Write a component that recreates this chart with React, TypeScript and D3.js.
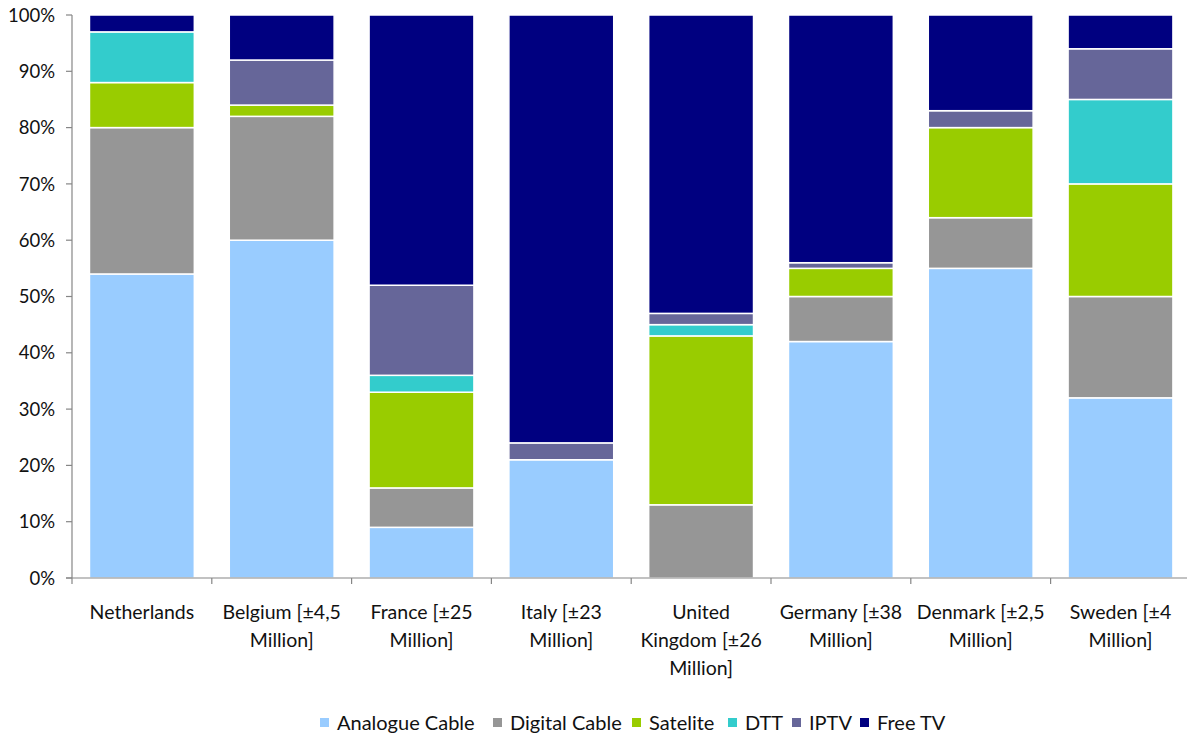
import React from "react";
import * as d3 from "d3";

const categories = [
  ["Netherlands"],
  ["Belgium [±4,5", "Million]"],
  ["France [±25", "Million]"],
  ["Italy [±23", "Million]"],
  ["United", "Kingdom [±26", "Million]"],
  ["Germany [±38", "Million]"],
  ["Denmark [±2,5", "Million]"],
  ["Sweden [±4", "Million]"],
];
const seriesNames = ["Analogue Cable", "Digital Cable", "Satelite", "DTT", "IPTV", "Free TV"];
const seriesColors = ["#99ccff", "#969696", "#99cc00", "#33cccc", "#666699", "#000080"];
const analogueCable = [54, 60, 9, 21, 0, 42, 55, 32];
const digitalCable = [26, 22, 7, 0, 13, 8, 9, 18];
const satelite = [8, 2, 17, 0, 30, 5, 16, 20];
const dtt = [9, 0, 3, 0, 2, 0, 0, 15];
const iptv = [0, 8, 16, 3, 2, 1, 3, 9];
const freeTv = [3, 8, 48, 76, 53, 44, 17, 6];
const yTicks = [0, 10, 20, 30, 40, 50, 60, 70, 80, 90, 100];

const W = 1187, H = 735;
const font = "Lato, sans-serif";

export default function App() {
  const data = [analogueCable, digitalCable, satelite, dtt, iptv, freeTv];
  const x = d3.scaleBand<number>().domain(d3.range(categories.length)).range([72, 72 + 8 * 139.8]).paddingInner(0.25).paddingOuter(0.125);
  const y = d3.scaleLinear().domain([0, 100]).range([578, 15]);
  const rows = categories.map((_, i) => {
    const r: any = { i };
    seriesNames.forEach((s, k) => (r[s] = data[k][i]));
    return r;
  });
  const stacked = d3.stack<any>().keys(seriesNames)(rows);

  const legendX = [320, 493, 632, 728, 792, 860];

  return (
    <svg width={W} height={H} style={{ position: "absolute", left: 0, top: 0, background: "#fff" }} fontFamily={font}>
      {stacked.map((layer, k) => (
        <g key={k} fill={seriesColors[k]}>
          {layer.map((d, i) =>
            d[1] - d[0] > 0 ? (
              <rect key={i} x={x(i)} width={x.bandwidth()} y={y(d[1])} height={y(d[0]) - y(d[1])} stroke="#fff" strokeWidth={1.5} />
            ) : null
          )}
        </g>
      ))}
      {/* y axis */}
      <line x1={72} x2={72} y1={15} y2={578} stroke="#868686" strokeWidth={1.2} />
      {yTicks.map((t) => (
        <g key={t}>
          <line x1={66} x2={72} y1={y(t)} y2={y(t)} stroke="#868686" strokeWidth={1.2} />
          <text x={55} y={y(t)} dy="0.36em" textAnchor="end" fontSize={18.5} fill="#111">
            {t}%
          </text>
        </g>
      ))}
      {/* x axis */}
      <line x1={66} x2={W} y1={578} y2={578} stroke="#868686" strokeWidth={1.2} />
      {d3.range(categories.length + 1).map((i) => (
        <line key={i} x1={72 + i * 139.8} x2={72 + i * 139.8} y1={578} y2={584} stroke="#868686" strokeWidth={1.2} />
      ))}
      {categories.map((lines, i) => (
        <text key={i} textAnchor="middle" fontSize={19.5} fill="#111">
          {lines.map((l, j) => (
            <tspan key={j} x={(x(i) as number) + x.bandwidth() / 2} y={612 + j * 28} dy="0.36em">
              {l}
            </tspan>
          ))}
        </text>
      ))}
      {/* legend */}
      {seriesNames.map((s, k) => (
        <g key={s}>
          <rect x={legendX[k]} y={718} width={9} height={9} fill={seriesColors[k]} />
          <text x={legendX[k] + 17} y={723} dy="0.36em" fontSize={20} fill="#111">
            {s}
          </text>
        </g>
      ))}
    </svg>
  );
}
